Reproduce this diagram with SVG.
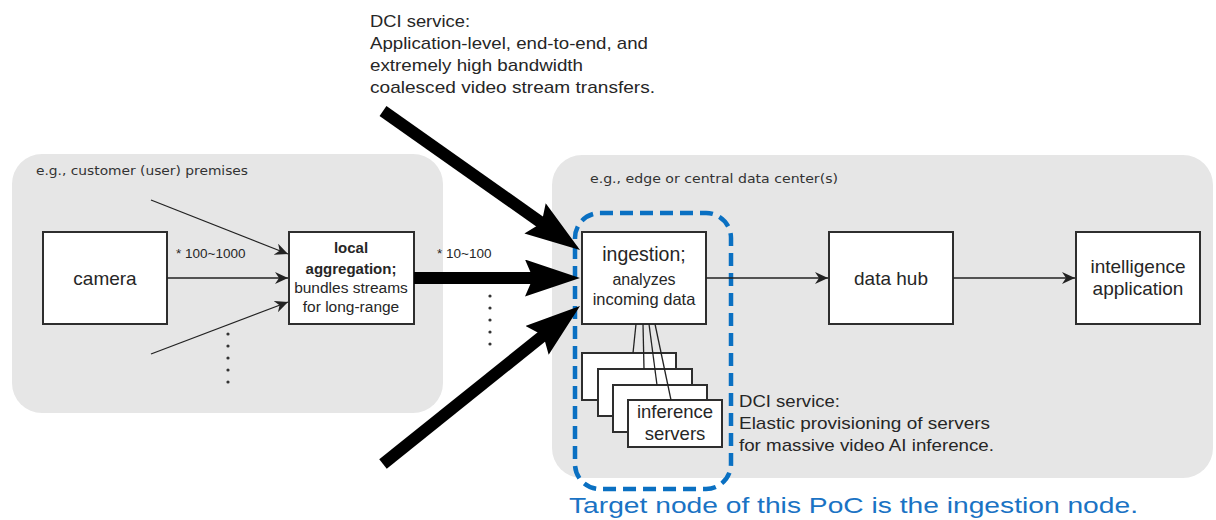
<svg xmlns="http://www.w3.org/2000/svg" width="1216" height="520" viewBox="0 0 1216 520">
  <style>
    .panel { fill: #e6e6e6; stroke: none; }
    .panel-label { font-family: "DejaVu Sans", "Liberation Sans", sans-serif; font-size: 12px; fill: #333333; }
    .box { fill: #ffffff; stroke: #2e2e2e; stroke-width: 2; }
    .t { font-family: "Liberation Sans", Arial, sans-serif; fill: #262626; text-anchor: middle; }
    .note { font-family: "Liberation Sans", Arial, sans-serif; font-size: 17px; fill: #262626; }
    .count { font-family: "Liberation Sans", Arial, sans-serif; font-size: 13.5px; fill: #262626; }
    .thin { stroke: #222222; stroke-width: 1.3; fill: none; }
    .thick { stroke: #000000; stroke-width: 12; fill: none; }
    .dot { fill: #333333; }
    .target { fill: none; stroke: #0a70c2; stroke-width: 4.5; stroke-dasharray: 13 7; }
    .target-text { font-family: "Liberation Sans", Arial, sans-serif; font-size: 22.5px; fill: #1a73c4; }
  </style>
  <defs>
    <marker id="arrow-small" markerUnits="userSpaceOnUse" markerWidth="14" markerHeight="12" refX="13" refY="6" orient="auto">
      <path d="M0,0 L13,6 L0,12 L4,6 z" fill="#222222"/>
    </marker>
    <marker id="arrow-big" markerUnits="userSpaceOnUse" markerWidth="56" markerHeight="38" refX="20" refY="18.5" orient="auto">
      <path d="M0,0 L55,18.5 L0,37 L8,18.5 z" fill="#000000"/>
    </marker>
  </defs>

  <!-- site panels -->
  <g id="panel-premises">
    <rect class="panel" x="12" y="154" width="431" height="259" rx="30"/>
    <text class="panel-label" x="36" y="175" textLength="212" lengthAdjust="spacingAndGlyphs">e.g., customer (user) premises</text>
  </g>
  <g id="panel-datacenter">
    <rect class="panel" x="552" y="155" width="661" height="323" rx="30"/>
    <text class="panel-label" x="590" y="183" textLength="248" lengthAdjust="spacingAndGlyphs">e.g., edge or central data center(s)</text>
  </g>

  <!-- nodes -->
  <g id="camera">
    <rect class="box" x="43" y="232" width="124" height="92"/>
    <text class="t" x="105" y="285" font-size="19">camera</text>
  </g>

  <g id="local-aggregation">
    <rect class="box" x="289" y="232" width="125" height="92"/>
    <text class="t" x="351" y="253" font-size="15" font-weight="bold">local</text>
    <text class="t" x="351" y="274" font-size="15" font-weight="bold">aggregation;</text>
    <text class="t" x="351" y="293" font-size="15.5">bundles streams</text>
    <text class="t" x="351" y="312" font-size="15.5">for long-range</text>
  </g>

  <g id="ingestion">
    <rect class="box" x="582" y="232" width="124" height="92"/>
    <text class="t" x="644" y="261" font-size="19.5">ingestion;</text>
    <text class="t" x="644" y="285" font-size="16">analyzes</text>
    <text class="t" x="644" y="305" font-size="16.5">incoming data</text>
  </g>

  <g id="inference-servers">
    <rect class="box" x="582" y="353" width="94" height="47" stroke-width="1.6"/>
    <rect class="box" x="598" y="369" width="94" height="47" stroke-width="1.6"/>
    <rect class="box" x="613" y="385" width="94" height="47" stroke-width="1.6"/>
    <rect class="box" x="628" y="400" width="94" height="47" stroke-width="1.6"/>
    <text class="t" x="675" y="418" font-size="18.5">inference</text>
    <text class="t" x="675" y="440" font-size="18.5">servers</text>
  </g>

  <g id="data-hub">
    <rect class="box" x="829" y="232" width="124" height="92"/>
    <text class="t" x="891" y="285" font-size="19">data hub</text>
  </g>

  <g id="intelligence-application">
    <rect class="box" x="1076" y="232" width="124" height="92"/>
    <text class="t" x="1138" y="273" font-size="19">intelligence</text>
    <text class="t" x="1138" y="295" font-size="19">application</text>
  </g>

  <!-- scope of the ingestion node -->
  <g id="target-scope">
    <rect class="target" x="575" y="213" width="156" height="276" rx="25"/>
  </g>

  <!-- connectors -->
  <g id="connectors">
    <line class="thin" x1="151" y1="200" x2="288" y2="254" marker-end="url(#arrow-small)"/>
    <line class="thin" x1="167" y1="278" x2="288" y2="278" marker-end="url(#arrow-small)"/>
    <line class="thin" x1="151" y1="354" x2="288" y2="302" marker-end="url(#arrow-small)"/>

    <line class="thick" x1="383" y1="111" x2="551.4" y2="229.8" marker-end="url(#arrow-big)"/>
    <line class="thick" x1="414" y1="278" x2="545" y2="278" marker-end="url(#arrow-big)"/>
    <line class="thick" x1="383" y1="464" x2="552.7" y2="327.9" marker-end="url(#arrow-big)"/>

    <line class="thin" x1="636" y1="324" x2="633" y2="353"/>
    <line class="thin" x1="643" y1="324" x2="644" y2="369"/>
    <line class="thin" x1="649" y1="324" x2="657" y2="385"/>
    <line class="thin" x1="655" y1="324" x2="671" y2="400"/>

    <line class="thin" x1="706" y1="278" x2="828" y2="278" marker-end="url(#arrow-small)"/>
    <line class="thin" x1="953" y1="278" x2="1075" y2="278" marker-end="url(#arrow-small)"/>
  </g>

  <!-- multiplicity labels and ellipses -->
  <g id="counts">
    <text class="count" x="176" y="258">* 100~1000</text>
    <text class="count" x="437" y="258">* 10~100</text>
    <circle class="dot" cx="228" cy="334" r="1.6"/>
    <circle class="dot" cx="228" cy="346" r="1.6"/>
    <circle class="dot" cx="228" cy="358" r="1.6"/>
    <circle class="dot" cx="228" cy="370" r="1.6"/>
    <circle class="dot" cx="228" cy="382" r="1.6"/>
    <circle class="dot" cx="490" cy="296" r="1.6"/>
    <circle class="dot" cx="490" cy="308" r="1.6"/>
    <circle class="dot" cx="490" cy="320" r="1.6"/>
    <circle class="dot" cx="490" cy="332" r="1.6"/>
    <circle class="dot" cx="490" cy="344" r="1.6"/>
  </g>

  <!-- service notes -->
  <g id="note-transfer">
    <text class="note" x="370" y="27" textLength="100" lengthAdjust="spacingAndGlyphs">DCI service:</text>
    <text class="note" x="370" y="49" textLength="278" lengthAdjust="spacingAndGlyphs">Application-level, end-to-end, and</text>
    <text class="note" x="370" y="71" textLength="213" lengthAdjust="spacingAndGlyphs">extremely high bandwidth</text>
    <text class="note" x="370" y="93" textLength="285" lengthAdjust="spacingAndGlyphs">coalesced video stream transfers.</text>
  </g>
  <g id="note-provisioning">
    <text class="note" x="739" y="407" textLength="101" lengthAdjust="spacingAndGlyphs">DCI service:</text>
    <text class="note" x="739" y="429" textLength="251" lengthAdjust="spacingAndGlyphs">Elastic provisioning of servers</text>
    <text class="note" x="739" y="451" textLength="255" lengthAdjust="spacingAndGlyphs">for massive video AI inference.</text>
  </g>

  <text class="target-text" x="569" y="513" textLength="569" lengthAdjust="spacingAndGlyphs">Target node of this PoC is the ingestion node.</text>
</svg>
